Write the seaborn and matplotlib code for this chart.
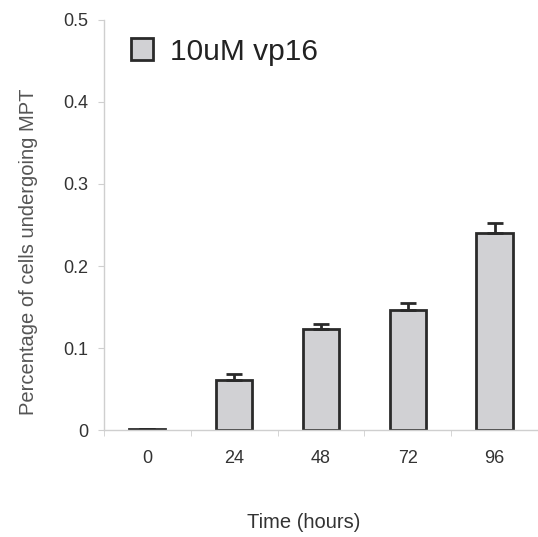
import matplotlib
matplotlib.use("Agg")
import matplotlib.pyplot as plt
import seaborn as sns
import pandas as pd
import numpy as np
from matplotlib.ticker import FixedLocator

# Data
time_labels = ["0", "24", "48", "72", "96"]
mpt_fraction = [0.001, 0.061, 0.123, 0.146, 0.240]
mpt_error = [0.0, 0.007, 0.006, 0.009, 0.012]
series_name = "10uM vp16"

df = pd.DataFrame({"time": time_labels, "value": mpt_fraction})

sns.set_style("white")
plt.rcParams["font.family"] = ["Liberation Sans", "DejaVu Sans"]

fig = plt.figure(figsize=(5.38, 5.37), dpi=100)
ax = fig.add_axes([0.193, 0.199, 0.807, 0.764])

text_col = "#333333"
axis_col = "#cfcfcf"

sns.barplot(data=df, x="time", y="value", color="#d1d1d4", width=0.42,
            edgecolor="#2a2a2a", linewidth=2.0, errorbar=None, ax=ax,
            label=series_name, saturation=1)

xs = np.arange(len(time_labels))
ax.errorbar(xs, mpt_fraction, yerr=[np.zeros(len(mpt_error)), mpt_error],
            fmt="none", ecolor="#2a2a2a", elinewidth=2.0, capsize=6, capthick=2.0)

ax.set_xlim(-0.5, len(time_labels) - 0.5)
ax.set_ylim(0, 0.5)
ax.set_yticks([0, 0.1, 0.2, 0.3, 0.4, 0.5])
ax.set_yticklabels(["0", "0.1", "0.2", "0.3", "0.4", "0.5"])

# category boundary tick marks
ax.xaxis.set_minor_locator(FixedLocator(np.arange(-0.5, len(time_labels), 1.0)))
ax.tick_params(axis="x", which="major", length=0, pad=14, labelsize=13, labelcolor=text_col)
ax.tick_params(axis="x", which="minor", length=4, color=axis_col, direction="out", bottom=True)
ax.tick_params(axis="y", length=4, color=axis_col, direction="out", left=True,
               labelsize=13, labelcolor=text_col, pad=7)

for side in ["top", "right"]:
    ax.spines[side].set_visible(False)
for side in ["left", "bottom"]:
    ax.spines[side].set_color(axis_col)
    ax.spines[side].set_linewidth(1.0)

ax.set_xlabel("Time (hours)", fontsize=14.5, color=text_col, va="center")
ax.xaxis.set_label_coords(0.46, -0.224)
ax.set_ylabel("Percentage of cells undergoing MPT", fontsize=14.5, color="#555555")
ax.yaxis.set_label_coords(-0.152, 0.435)

leg = ax.legend(loc="upper left", bbox_to_anchor=(0.0, 1.022), frameon=False,
                fontsize=21.5, handlelength=0.75, handleheight=0.75, handletextpad=0.55,
                labelcolor="#222222", borderpad=0.4)

fig.savefig("out.png", dpi=100, facecolor="white")
